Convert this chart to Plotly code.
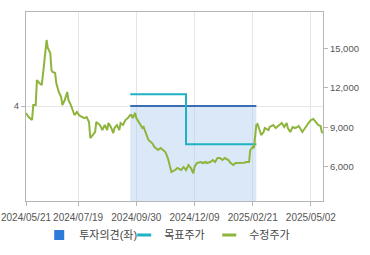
import plotly.graph_objects as go

# ---- data ----
price_day = [0, 2, 5, 6, 8, 9, 11, 13, 15, 16, 17, 18, 20, 21, 22, 24, 25, 27, 29, 30,
             32, 34, 35, 37, 39, 40, 42, 44, 48, 50, 52, 53, 55, 57, 58, 61, 63, 65, 67, 68,
             70, 72, 73, 75, 77, 78, 80, 82, 84, 86, 87, 88, 90, 91, 93, 96, 97, 99, 101, 104,
             106, 109, 111, 113, 115, 117, 119, 120, 123, 125, 128, 130, 132, 134, 136, 138, 139, 141, 144, 146,
             148, 149, 152, 154, 156, 158, 160, 162, 164, 167, 168, 171, 173, 175, 177, 180, 182, 184, 185, 187,
             188, 189, 190, 191, 192, 194, 196, 197, 200, 201, 204, 206, 207, 209, 211, 213, 215, 216, 218, 220,
             222, 224, 225, 228, 230, 231, 233, 235, 237, 239, 241, 243, 244, 245]
price = [10080, 9800, 9550, 10690, 10690, 12590, 12360, 12210, 13880, 14870, 15630, 15020, 14640, 13350, 13200, 13120, 12360, 11680, 11300, 10690,
         11070, 11680, 11070, 10690, 10160, 9930, 10160, 9900, 9700, 9780, 9400, 8180, 8410, 8640, 9400, 9170, 8790, 9170, 8790, 9320,
         9020, 8560, 8940, 9170, 8790, 9320, 9170, 9550, 9700, 9930, 9930, 9700, 10080, 9700, 9400, 8940, 9020, 8560, 8030, 7800,
         7500, 7270, 7420, 7270, 7120, 6660, 5980, 5600, 5750, 5900, 5750, 5980, 5750, 6130, 5900, 5500, 5980, 6280, 6360, 6280,
         6360, 6280, 6360, 6510, 6360, 6660, 6660, 6510, 6660, 6510, 6360, 6130, 6280, 6280, 6300, 6300, 6360, 6360, 7270, 7500,
         7420, 8180, 9170, 9250, 8940, 8410, 8640, 8940, 8790, 9020, 9170, 8940, 9020, 9170, 9320, 9020, 9320, 8940, 8640, 9020,
         8940, 9020, 9100, 8640, 8940, 9020, 9320, 9550, 9630, 9400, 9170, 9100, 8640, 8560]

target_day = [86, 132, 132, 190]
target_price = [11500, 11500, 7700, 7700]

opinion_day = [86, 190]
opinion_value = [4, 4]

tick_days = [0, 43, 91, 139, 187, 235]
tick_labels = ["2024/05/21", "2024/07/19", "2024/09/30", "2024/12/09", "2025/02/21", "2025/05/02"]

right_ticks = [6000, 9000, 12000, 15000]

# ---- figure ----
GREEN = "#8db53c"
CYAN = "#1fb1c4"
NAVY = "#3b6db5"
SQUARE = "#2d7bd9"
FONT = "Liberation Sans, Noto Sans CJK KR, sans-serif"

fig = go.Figure()

fig.add_trace(go.Scatter(
    x=opinion_day, y=opinion_value, mode="lines", yaxis="y",
    line=dict(color=NAVY, width=2), fill="tozeroy",
    fillcolor="rgba(176,204,240,0.45)", showlegend=False, hoverinfo="skip"))

fig.add_trace(go.Scatter(
    x=target_day, y=target_price, mode="lines", yaxis="y2", name="목표주가",
    line=dict(color=CYAN, width=2), showlegend=False))

fig.add_trace(go.Scatter(
    x=price_day, y=price, mode="lines", yaxis="y2", name="수정주가",
    line=dict(color=GREEN, width=2), showlegend=False))

# legend entries (short symbols like the reference)
fig.add_trace(go.Scatter(
    x=[None], y=[None], mode="markers", name="투자의견(좌)",
    marker=dict(symbol="square", size=10, color=SQUARE)))
fig.add_trace(go.Scatter(
    x=[None], y=[None], mode="markers", name="목표주가",
    marker=dict(symbol="line-ew", size=10, color=CYAN, line=dict(color=CYAN, width=3))))
fig.add_trace(go.Scatter(
    x=[None], y=[None], mode="markers", name="수정주가",
    marker=dict(symbol="line-ew", size=10, color=GREEN, line=dict(color=GREEN, width=3))))

axis_line = "#b5b5b5"
tfx = dict(size=10, color="#555555")
tfy = dict(size=9.5, color="#555555")
fig.update_layout(
    width=370, height=255,
    margin=dict(l=26, r=47, t=12, b=54),
    paper_bgcolor="white", plot_bgcolor="white",
    font=dict(family=FONT, size=10, color="#555555"),
    xaxis=dict(range=[0, 245], tickvals=tick_days, ticktext=tick_labels, tickangle=0,
               showgrid=True, gridcolor="#e6e6e6", gridwidth=1,
               showline=True, linecolor=axis_line, linewidth=1, mirror=True,
               ticks="outside", ticklen=4, tickcolor=axis_line, zeroline=False,
               tickfont=tfx, automargin=False, ticklabelstandoff=3),
    yaxis=dict(range=[0, 7.96], tickvals=[4], showgrid=True, gridcolor="#e6e6e6",
               showline=True, linecolor=axis_line, linewidth=1, mirror=True,
               ticks="outside", ticklen=4, tickcolor=axis_line, zeroline=False,
               tickfont=tfy, automargin=False),
    yaxis2=dict(range=[3395, 17760], overlaying="y", side="right",
                tickvals=right_ticks, tickformat=",d", showgrid=False,
                ticks="outside", ticklen=4, tickcolor=axis_line, zeroline=False,
                tickfont=tfy, automargin=False),
    legend=dict(orientation="h", xref="container", yref="container",
                x=0.106, xanchor="left", y=0.078, yanchor="middle",
                font=dict(size=11, color="#444444"), bgcolor="rgba(0,0,0,0)",
                itemwidth=30, entrywidth=40, entrywidthmode="pixels"),
    showlegend=True,
)

fig.write_html("out.html")
